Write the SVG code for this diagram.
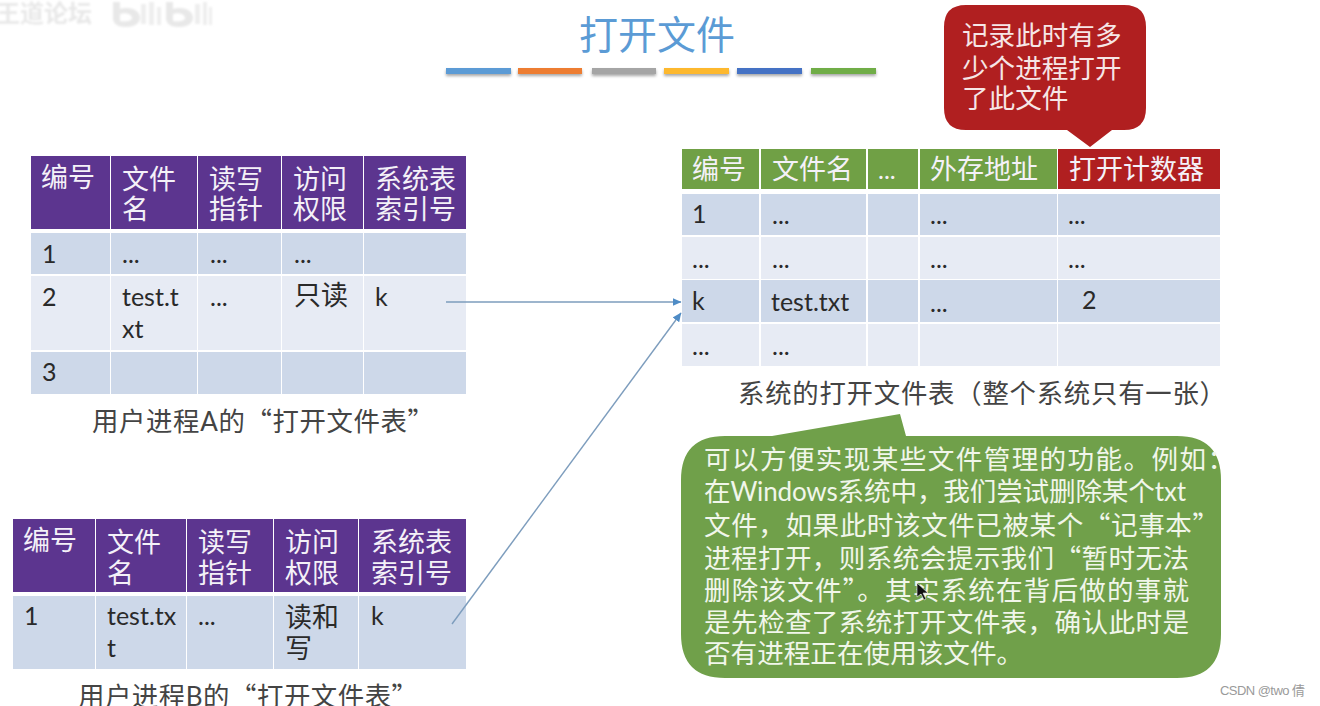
<svg xmlns="http://www.w3.org/2000/svg" width="1320" height="706" viewBox="0 0 1320 706">
<style>
text{font-family:"Noto Sans CJK SC","Noto Sans",sans-serif;fill:#2a2a2a;font-size:27px}
.l{font-family:Lato,"Noto Sans CJK SC",sans-serif;font-size:25px}
.h{fill:#f4f1f8}
.hp{fill:#5c358f}.hg{fill:#70a045}.hr{fill:#b01f20}
.a{fill:#cdd8e9}.b{fill:#e7ebf4}
.c{fill:#444;font-size:26.4px}
.w{fill:#f1f6ea;font-size:26.6px}
.bar{filter:url(#sh)}
.conn{stroke:#7d9dbd;stroke-width:1.4;fill:none;marker-end:url(#arr)}
</style>
<defs>
<marker id="arr" markerWidth="10" markerHeight="10" refX="8.5" refY="4" orient="auto" markerUnits="userSpaceOnUse"><path d="M0 0L9 4L0 8Z" fill="#4f8cc6"/></marker>
<filter id="sh" x="-10%" y="-60%" width="120%" height="260%"><feDropShadow dx="0" dy="2" stdDeviation="1.5" flood-color="#000" flood-opacity=".35"/></filter>
<filter id="bl" x="-20%" y="-20%" width="140%" height="140%"><feGaussianBlur stdDeviation="1"/></filter>
</defs>
<rect width="1320" height="706" fill="#fff"/>

<g id="watermark" filter="url(#bl)">
<text x="-4" y="22" style="font-size:24px;font-weight:700;fill:#e8e8e8">王道论坛</text>
<path d="M113 2h7v7c10-3 20 1 20 9c0 6-7 9-14 9c-8 0-13-3-13-9ZM120 14v7c5 1 12 0 12-3c0-4-7-6-12-4Z" fill-rule="evenodd" fill="#e8e8e8"/>
<path d="M141 4h5v20h-5ZM149 2h5v23h-5ZM157 7h4v18h-4Z" fill="#eeeeee"/>
<path d="M166 2h7v7c10-3 20 1 20 9c0 6-7 9-14 9c-8 0-13-3-13-9ZM173 14v7c5 1 12 0 12-3c0-4-7-6-12-4Z" fill-rule="evenodd" fill="#e8e8e8"/>
<path d="M195 4h5v20h-5ZM203 2h4v23h-4ZM209 7h3v18h-3Z" fill="#eeeeee"/>
</g>

<g id="title">
<text x="657" y="49" text-anchor="middle" style="font-size:39px;fill:#5b9bd5">打开文件</text>
<rect class="bar" x="446" y="68" width="65" height="6" fill="#5b9bd5"/>
<rect class="bar" x="518" y="68" width="64" height="6" fill="#ed7d31"/>
<rect class="bar" x="592" y="68" width="64" height="6" fill="#a5a5a5"/>
<rect class="bar" x="664" y="68" width="65" height="6" fill="#fdb82e"/>
<rect class="bar" x="737" y="68" width="65" height="6" fill="#4472c4"/>
<rect class="bar" x="811" y="68" width="65" height="6" fill="#70ad47"/>
</g>

<g id="table-a">
<g class="hp"><rect x="31" y="156" width="79" height="73"/><rect x="111" y="156" width="86" height="73"/><rect x="198" y="156" width="83" height="73"/><rect x="282" y="156" width="81" height="73"/><rect x="364" y="156" width="102" height="73"/></g>
<g class="a"><rect x="31" y="233" width="79" height="41"/><rect x="111" y="233" width="86" height="41"/><rect x="198" y="233" width="83" height="41"/><rect x="282" y="233" width="81" height="41"/><rect x="364" y="233" width="102" height="41"/></g>
<g class="b"><rect x="31" y="276" width="79" height="74"/><rect x="111" y="276" width="86" height="74"/><rect x="198" y="276" width="83" height="74"/><rect x="282" y="276" width="81" height="74"/><rect x="364" y="276" width="102" height="74"/></g>
<g class="a"><rect x="31" y="352" width="79" height="42"/><rect x="111" y="352" width="86" height="42"/><rect x="198" y="352" width="83" height="42"/><rect x="282" y="352" width="81" height="42"/><rect x="364" y="352" width="102" height="42"/></g>
<text class="h" x="41" y="187">编号</text>
<text class="h" x="122" y="189">文件</text><text class="h" x="122" y="219">名</text>
<text class="h" x="209" y="189">读写</text><text class="h" x="209" y="219">指针</text>
<text class="h" x="293" y="189">访问</text><text class="h" x="293" y="219">权限</text>
<text class="h" x="375" y="189">系统表</text><text class="h" x="375" y="219">索引号</text>
<text class="l" x="42" y="263">1</text><text class="l" x="122" y="263">...</text><text class="l" x="210" y="263">...</text><text class="l" x="294" y="263">...</text>
<text class="l" x="42" y="306">2</text><text class="l" x="122" y="306">test.t</text><text class="l" x="122" y="338">xt</text><text class="l" x="210" y="306">...</text><text x="294" y="305">只读</text><text class="l" x="375" y="306">k</text>
<text class="l" x="42" y="381">3</text>
<text class="c" x="92" y="431" textLength="342">用户进程<tspan class="l" style="fill:#444;font-size:26px">A</tspan>的“打开文件表”</text>
</g>

<g id="table-b">
<g class="hp"><rect x="13" y="519" width="82" height="73"/><rect x="96" y="519" width="90" height="73"/><rect x="187" y="519" width="86" height="73"/><rect x="274" y="519" width="84" height="73"/><rect x="359" y="519" width="107" height="73"/></g>
<g class="a"><rect x="13" y="596" width="82" height="73"/><rect x="96" y="596" width="90" height="73"/><rect x="187" y="596" width="86" height="73"/><rect x="274" y="596" width="84" height="73"/><rect x="359" y="596" width="107" height="73"/></g>
<text class="h" x="23" y="550">编号</text>
<text class="h" x="107" y="552">文件</text><text class="h" x="107" y="583">名</text>
<text class="h" x="198" y="552">读写</text><text class="h" x="198" y="583">指针</text>
<text class="h" x="285" y="552">访问</text><text class="h" x="285" y="583">权限</text>
<text class="h" x="371" y="552">系统表</text><text class="h" x="371" y="583">索引号</text>
<text class="l" x="24" y="625">1</text><text class="l" x="107" y="625">test.tx</text><text class="l" x="107" y="657">t</text><text class="l" x="198" y="625">...</text><text x="285" y="627">读和</text><text x="285" y="658">写</text><text class="l" x="371" y="625">k</text>
<text class="c" x="78" y="706" textLength="340">用户进程<tspan class="l" style="fill:#444;font-size:26px">B</tspan>的“打开文件表”</text>
</g>

<g id="system-table">
<g class="hg"><rect x="682" y="149" width="77" height="40"/><rect x="761" y="149" width="105" height="40"/><rect x="868" y="149" width="50" height="40"/><rect x="920" y="149" width="137" height="40"/></g>
<rect class="hr" x="1058" y="149" width="162" height="40"/>
<g class="a"><rect x="682" y="194" width="77" height="41"/><rect x="761" y="194" width="105" height="41"/><rect x="868" y="194" width="50" height="41"/><rect x="920" y="194" width="137" height="41"/><rect x="1058" y="194" width="162" height="41"/></g>
<g class="b"><rect x="682" y="237" width="77" height="42"/><rect x="761" y="237" width="105" height="42"/><rect x="868" y="237" width="50" height="42"/><rect x="920" y="237" width="137" height="42"/><rect x="1058" y="237" width="162" height="42"/></g>
<g class="a"><rect x="682" y="280" width="77" height="42"/><rect x="761" y="280" width="105" height="42"/><rect x="868" y="280" width="50" height="42"/><rect x="920" y="280" width="137" height="42"/><rect x="1058" y="280" width="162" height="42"/></g>
<g class="b"><rect x="682" y="324" width="77" height="42"/><rect x="761" y="324" width="105" height="42"/><rect x="868" y="324" width="50" height="42"/><rect x="920" y="324" width="137" height="42"/><rect x="1058" y="324" width="162" height="42"/></g>
<text class="h" x="692" y="179">编号</text><text class="h" x="772" y="179">文件名</text><text class="h l" x="878" y="179">...</text><text class="h" x="930" y="179">外存地址</text><text class="h" x="1069" y="179">打开计数器</text>
<text class="l" x="692" y="223">1</text><text class="l" x="772" y="224">...</text><text class="l" x="930" y="224">...</text><text class="l" x="1068" y="224">...</text>
<text class="l" x="692" y="268">...</text><text class="l" x="772" y="268">...</text><text class="l" x="930" y="268">...</text><text class="l" x="1068" y="268">...</text>
<text class="l" x="692" y="310">k</text><text class="l" x="771" y="311">test.txt</text><text class="l" x="930" y="312">...</text><text class="l" x="1082" y="309">2</text>
<text class="l" x="692" y="355">...</text><text class="l" x="772" y="355">...</text>
<text class="c" x="738" y="403" textLength="488">系统的打开文件表（整个系统只有一张）</text>
</g>

<g id="connectors">
<path class="conn" d="M446 302H681"/>
<path class="conn" d="M452 624L681 313"/>
</g>

<g id="callout-red">
<path d="M966 5H1124Q1146 5 1146 27V108Q1146 130 1124 130H1112L1090 147L1067 130H966Q944 130 944 108V27Q944 5 966 5Z" fill="#b01f20"/>
<text class="w" x="962" y="45" style="fill:#f6e6e6">记录此时有多</text>
<text class="w" x="962" y="78" style="fill:#f6e6e6">少个进程打开</text>
<text class="w" x="962" y="108" style="fill:#f6e6e6">了此文件</text>
</g>

<g id="callout-green">
<path d="M725 436H772L900 414L906 436H1177Q1221 436 1221 480V634Q1221 678 1177 678H725Q681 678 681 634V480Q681 436 725 436Z" fill="#70a04a"/>
<text class="w" x="704" y="469" textLength="530">可以方便实现某些文件管理的功能。例如：</text>
<text class="w" x="704" y="501" textLength="482">在<tspan class="l" style="fill:#f1f6ea;font-size:26px">Windows</tspan>系统中，我们尝试删除某个<tspan class="l" style="fill:#f1f6ea;font-size:26px">txt</tspan></text>
<text class="w" x="704" y="535" textLength="515">文件，如果此时该文件已被某个“记事本”</text>
<text class="w" x="704" y="568" textLength="485">进程打开，则系统会提示我们“暂时无法</text>
<text class="w" x="704" y="600" textLength="485">删除该文件”。其实系统在背后做的事就</text>
<text class="w" x="704" y="632" textLength="485">是先检查了系统打开文件表，确认此时是</text>
<text class="w" x="704" y="663">否有进程正在使用该文件。</text>
<path d="M917 583L917 597L921 594L924 600L926 599L923 593L928 593Z" fill="#111" stroke="#eee" stroke-width=".6"/>
</g>

<text id="credit" x="1220" y="695" textLength="85" style="font-family:'Liberation Sans','Noto Sans CJK SC',sans-serif;font-size:13px;fill:#9a9a9a">CSDN @two 倩</text>
</svg>
